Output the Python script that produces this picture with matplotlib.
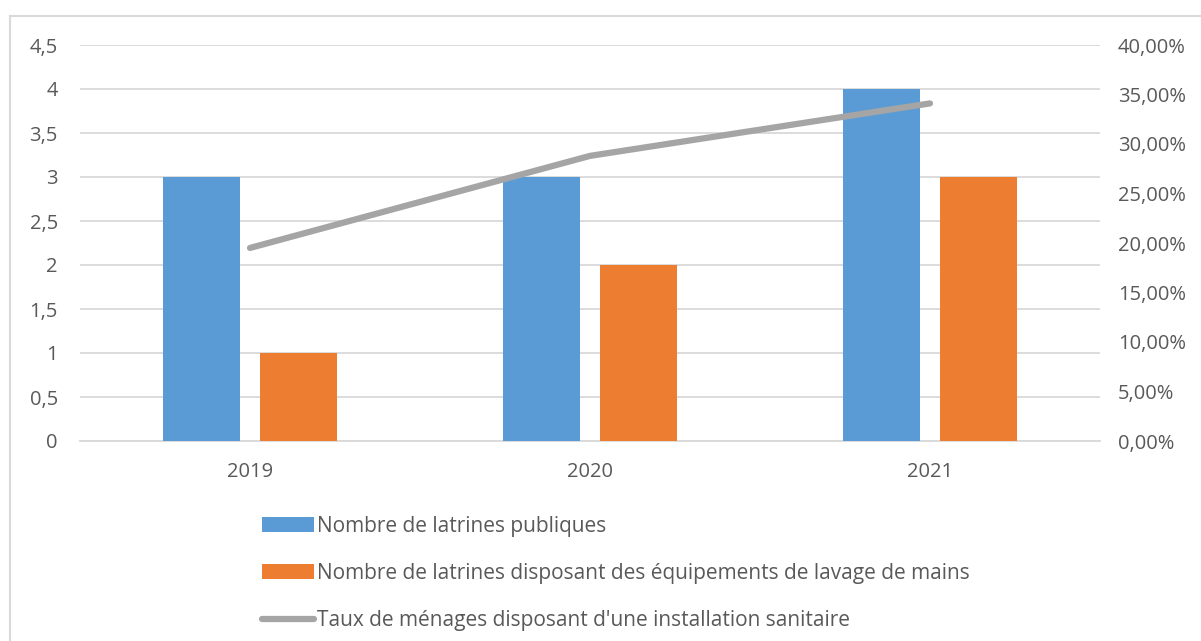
import matplotlib.pyplot as plt
import numpy as np
from matplotlib.lines import Line2D
from matplotlib.ticker import FuncFormatter

plt.rcParams['font.family'] = ['Open Sans', 'DejaVu Sans']

# data
years = ['2019', '2020', '2021']
latrines_publiques = [3, 3, 4]
latrines_lavage = [1, 2, 3]
taux_menages = [0.195, 0.288, 0.341]

blue = '#5B9BD5'
orange = '#ED7D31'
grey = '#A5A5A5'
txt = '#595959'

fig = plt.figure(figsize=(12.01, 6.41), dpi=100)
ax = fig.add_axes([80 / 1201, 1 - 441 / 641, 1020 / 1201, 396 / 641])

x = np.arange(len(years))
w = 0.226
ax.bar(x - 0.143, latrines_publiques, w, color=blue, zorder=3,
       label='Nombre de latrines publiques')
ax.bar(x + 0.143, latrines_lavage, w, color=orange, zorder=3,
       label='Nombre de latrines disposant des équipements de lavage de mains')
ax.set_xlim(-0.5, 2.5)
ax.set_ylim(0, 4.5)
ax.set_yticks(np.arange(0, 4.51, 0.5))
ax.yaxis.set_major_formatter(FuncFormatter(lambda v, p: ('%g' % v).replace('.', ',')))
ax.set_xticks(x)
ax.set_xticklabels(years)
ax.grid(axis='y', color='#D9D9D9', lw=1.3, zorder=0)
for s in ['top', 'right', 'left']:
    ax.spines[s].set_visible(False)
ax.spines['bottom'].set_color('#D9D9D9')
ax.spines['bottom'].set_linewidth(1.3)
ax.tick_params(axis='both', length=0, labelsize=14.5, colors=txt)
ax.tick_params(axis='y', pad=16)
ax.tick_params(axis='x', pad=15)

# secondary axis for the rate
ax2 = ax.twinx()
ax2.plot(x, taux_menages, color=grey, lw=4.5, solid_capstyle='round', zorder=4,
         label="Taux de ménages disposant d'une installation sanitaire")
ax2.set_ylim(0, 0.40)
ax2.set_yticks(np.arange(0, 0.401, 0.05))
ax2.yaxis.set_major_formatter(FuncFormatter(lambda v, p: ('%.2f%%' % (v * 100)).replace('.', ',')))
ax2.tick_params(axis='y', length=0, labelsize=14.5, colors=txt, pad=13)
for s in ax2.spines.values():
    s.set_visible(False)

h1, l1 = ax.get_legend_handles_labels()
h2, l2 = ax2.get_legend_handles_labels()
leg = fig.legend(h1 + h2, l1 + l2, loc='upper left', bbox_to_anchor=(243 / 1201, 1 - 497 / 641),
                 frameon=False, fontsize=15, labelcolor=txt, handlelength=2.5,
                 handleheight=0.68, handletextpad=0.15, labelspacing=1.25)

# chart border (top and left visible)
fig.add_artist(Line2D([10 / 1201, 10 / 1201], [0, 1 - 16 / 641], color='#D9D9D9', lw=1.5))
fig.add_artist(Line2D([10 / 1201, 1], [1 - 16 / 641, 1 - 16 / 641], color='#D9D9D9', lw=1.5))

fig.savefig('out.png', dpi=100)
